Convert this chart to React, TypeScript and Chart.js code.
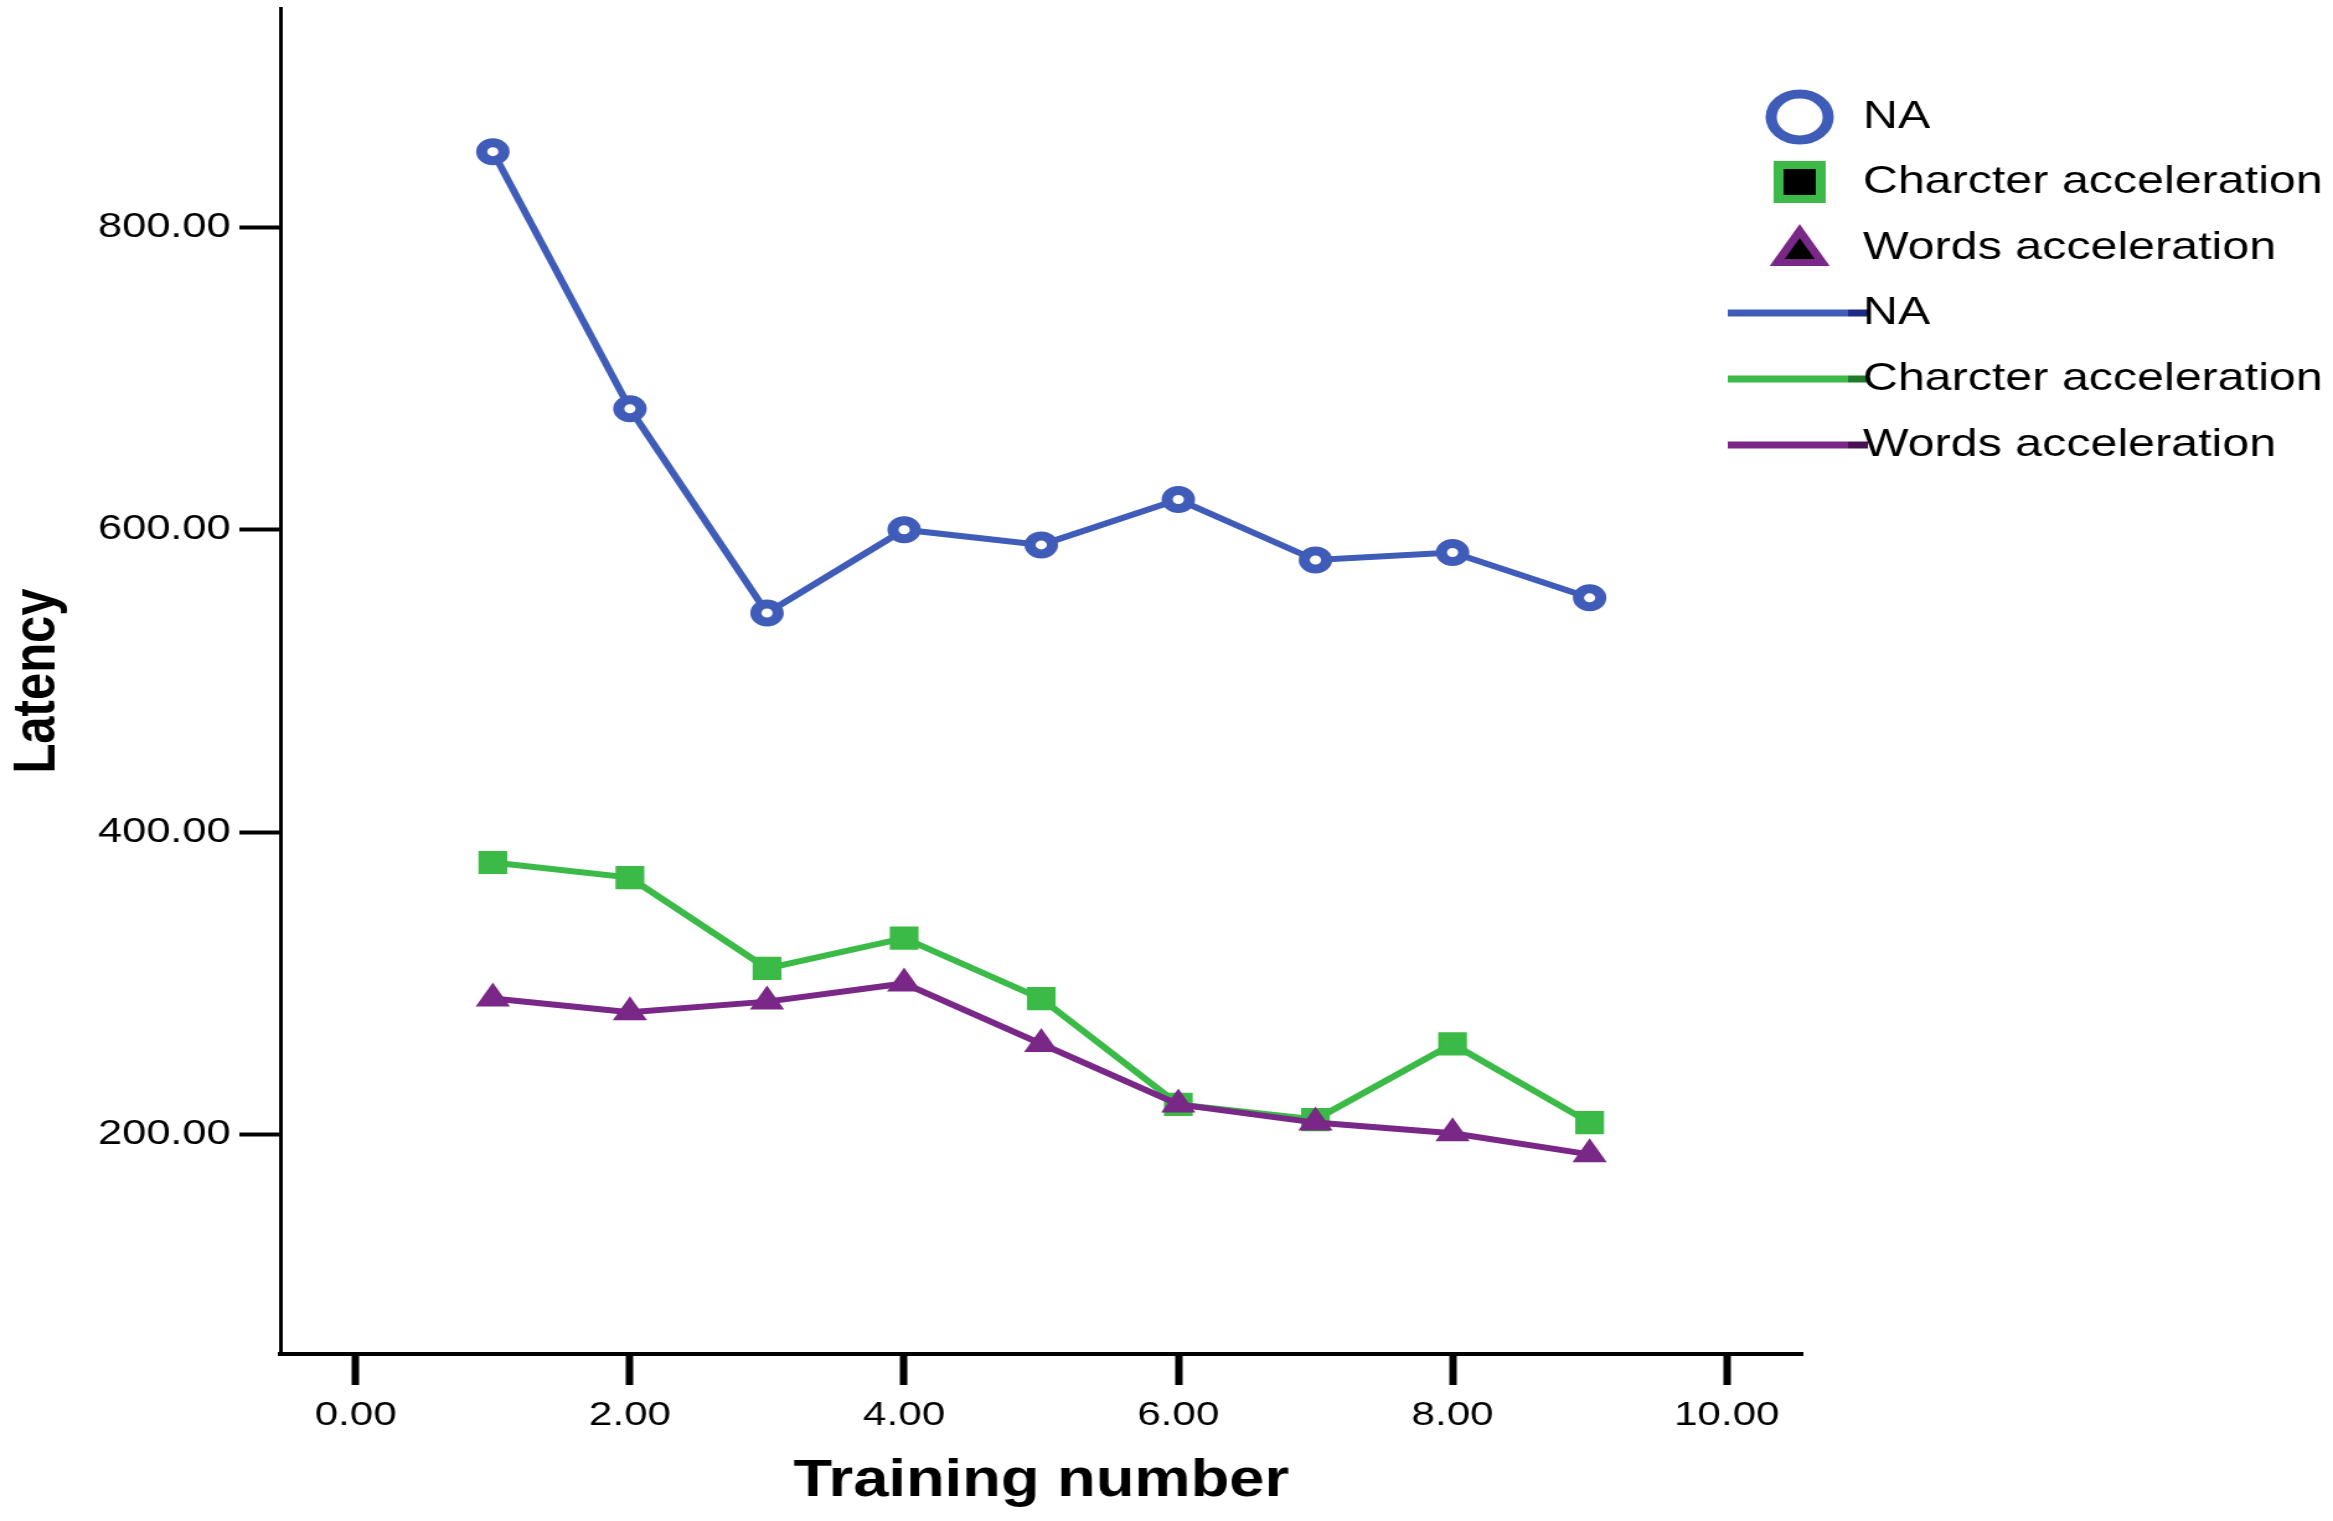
import { useEffect, useRef } from "react";
import { Chart, registerables } from "chart.js";

Chart.register(...registerables);

const trainingNumbers = [1, 2, 3, 4, 5, 6, 7, 8, 9];
const naLatency = [850, 680, 545, 600, 590, 620, 580, 585, 555];
const charLatency = [380, 370, 310, 330, 290, 220, 210, 260, 208];
const wordsLatency = [290, 281, 288, 300, 260, 220, 208, 201, 187];
const seriesNames = ["NA", "Charcter acceleration", "Words acceleration"];
const xTicks = [0, 2, 4, 6, 8, 10];
const yTicks = [200, 400, 600, 800];

const BLUE = "#3f5cb8";
const GREEN = "#3bba47";
const PURPLE = "#7a2887";
const DARK = ["#1d2a86", "#1f7a2c", "#4a1253"];
const FONT = "'Liberation Sans', Arial, sans-serif";

// the published figure is stretched sideways, so draw narrower and widen with css
const PAGE_W = 2333;
const PAGE_H = 1521;
const STRETCH = 1.24;
const CANVAS_W = Math.round(PAGE_W / STRETCH);

const toPoints = (ys: number[]) => trainingNumbers.map((x, i) => ({ x, y: ys[i] }));

// SPSS style legend: markers first, then the lines
const legendPlugin = {
  id: "spssLegend",
  afterDraw(chart: any) {
    const { ctx, chartArea } = chart;
    const cx = chartArea.right - 2;
    const textX = chartArea.right + 49;
    const rows = [117, 182, 248, 313, 379, 445];
    const sets = chart.data.datasets;
    ctx.save();
    ctx.font = `39px ${FONT}`;
    ctx.textBaseline = "middle";
    sets.forEach((ds: any, i: number) => {
      const y = rows[i];
      const col = ds.borderColor;
      if (ds.pointStyle === "circle") {
        ctx.beginPath();
        ctx.arc(cx, y, 23, 0, Math.PI * 2);
        ctx.fillStyle = "#fff";
        ctx.fill();
        ctx.lineWidth = 9;
        ctx.strokeStyle = col;
        ctx.stroke();
      } else if (ds.pointStyle === "rect") {
        ctx.fillStyle = col;
        ctx.fillRect(cx - 21, y - 21, 42, 42);
        ctx.fillStyle = "#000";
        ctx.fillRect(cx - 13, y - 13, 26, 26);
      } else {
        const r = 28;
        const tri = (rr: number, dy: number) => {
          ctx.beginPath();
          ctx.moveTo(cx, y + dy - rr);
          ctx.lineTo(cx + rr * 0.866, y + dy + rr * 0.5);
          ctx.lineTo(cx - rr * 0.866, y + dy + rr * 0.5);
          ctx.closePath();
        };
        tri(r, 4);
        ctx.fillStyle = col;
        ctx.fill();
        tri(r * 0.5, 4);
        ctx.fillStyle = "#000";
        ctx.fill();
      }
      ctx.fillStyle = "#000";
      ctx.fillText(ds.label, textX, y);
    });
    sets.forEach((ds: any, i: number) => {
      const y = rows[i + 3];
      ctx.lineWidth = 7;
      ctx.strokeStyle = ds.borderColor;
      ctx.beginPath();
      ctx.moveTo(chartArea.right - 60, y);
      ctx.lineTo(chartArea.right + 37, y);
      ctx.stroke();
      ctx.strokeStyle = DARK[i];
      ctx.beginPath();
      ctx.moveTo(chartArea.right + 37, y);
      ctx.lineTo(chartArea.right + 53, y);
      ctx.stroke();
      ctx.fillStyle = "#000";
      ctx.fillText(ds.label, textX, y);
    });
    ctx.restore();
  },
};

const LatencyChart = () => {
  const canvasRef = useRef<HTMLCanvasElement>(null);

  useEffect(() => {
    const canvas = canvasRef.current;
    if (!canvas) return;

    const chart = new Chart(canvas, {
      type: "line",
      data: {
        datasets: [
          {
            label: seriesNames[0],
            data: toPoints(naLatency),
            borderColor: BLUE,
            borderWidth: 6,
            pointStyle: "circle",
            pointRadius: 9,
            pointBorderWidth: 9,
            pointBackgroundColor: "#fff",
            pointBorderColor: BLUE,
            order: 1,
          },
          {
            label: seriesNames[1],
            data: toPoints(charLatency),
            borderColor: GREEN,
            borderWidth: 6,
            pointStyle: "rect",
            pointRadius: 15,
            pointBorderWidth: 2,
            pointBackgroundColor: GREEN,
            pointBorderColor: GREEN,
            order: 2,
          },
          {
            label: seriesNames[2],
            data: toPoints(wordsLatency),
            borderColor: PURPLE,
            borderWidth: 6,
            pointStyle: "triangle",
            pointRadius: 13,
            pointBorderWidth: 3,
            pointBackgroundColor: PURPLE,
            pointBorderColor: PURPLE,
            order: 0,
          },
        ],
      },
      options: {
        responsive: false,
        devicePixelRatio: 1,
        animation: false,
        events: [],
        layout: {
          autoPadding: false,
          padding: { left: 0, top: 8, right: CANVAS_W - 1453, bottom: 0 },
        },
        elements: { line: { tension: 0 } },
        plugins: {
          legend: { display: false },
          tooltip: { enabled: false },
        },
        scales: {
          x: {
            type: "linear",
            min: -0.55,
            max: 10.55,
            afterBuildTicks: (scale: any) => {
              scale.ticks = xTicks.map((value) => ({ value }));
            },
            afterFit: (scale: any) => {
              scale.height = PAGE_H - 1354;
              scale.paddingLeft = 0;
              scale.paddingRight = 0;
            },
            grid: {
              drawOnChartArea: false,
              tickLength: 31,
              tickWidth: 6,
              tickColor: "#000",
            },
            border: { display: true, color: "#000", width: 4 },
            ticks: {
              color: "#000",
              padding: 10,
              maxRotation: 0,
              font: { family: FONT, size: 34 },
              callback: (v: any) => Number(v).toFixed(2),
            },
            title: {
              display: true,
              text: "Training number",
              color: "#000",
              padding: { top: 0, bottom: 8 },
              font: { family: FONT, size: 51, weight: "bold" },
            },
          },
          y: {
            type: "linear",
            min: 55,
            max: 945,
            afterBuildTicks: (scale: any) => {
              scale.ticks = yTicks.map((value) => ({ value }));
            },
            afterFit: (scale: any) => {
              scale.width = 226;
              scale.paddingTop = 0;
              scale.paddingBottom = 0;
            },
            grid: {
              drawOnChartArea: false,
              tickLength: 33,
              tickWidth: 4,
              tickColor: "#000",
            },
            border: { display: true, color: "#000", width: 3 },
            ticks: {
              color: "#000",
              padding: 7,
              font: { family: FONT, size: 35 },
              callback: (v: any) => Number(v).toFixed(2),
            },
            title: {
              display: true,
              text: "Latency",
              color: "#000",
              padding: { top: 1, bottom: 0 },
              font: { family: FONT, size: 49, weight: "bold" },
            },
          },
        },
      },
      plugins: [legendPlugin],
    });

    return () => {
      chart.destroy();
    };
  }, []);

  return (
    <canvas
      ref={canvasRef}
      width={CANVAS_W}
      height={PAGE_H}
      style={{ width: PAGE_W + "px", height: PAGE_H + "px", display: "block" }}
    />
  );
};

export default function App() {
  return (
    <div style={{ position: "fixed", left: 0, top: 0, background: "#fff" }}>
      <LatencyChart />
    </div>
  );
}
